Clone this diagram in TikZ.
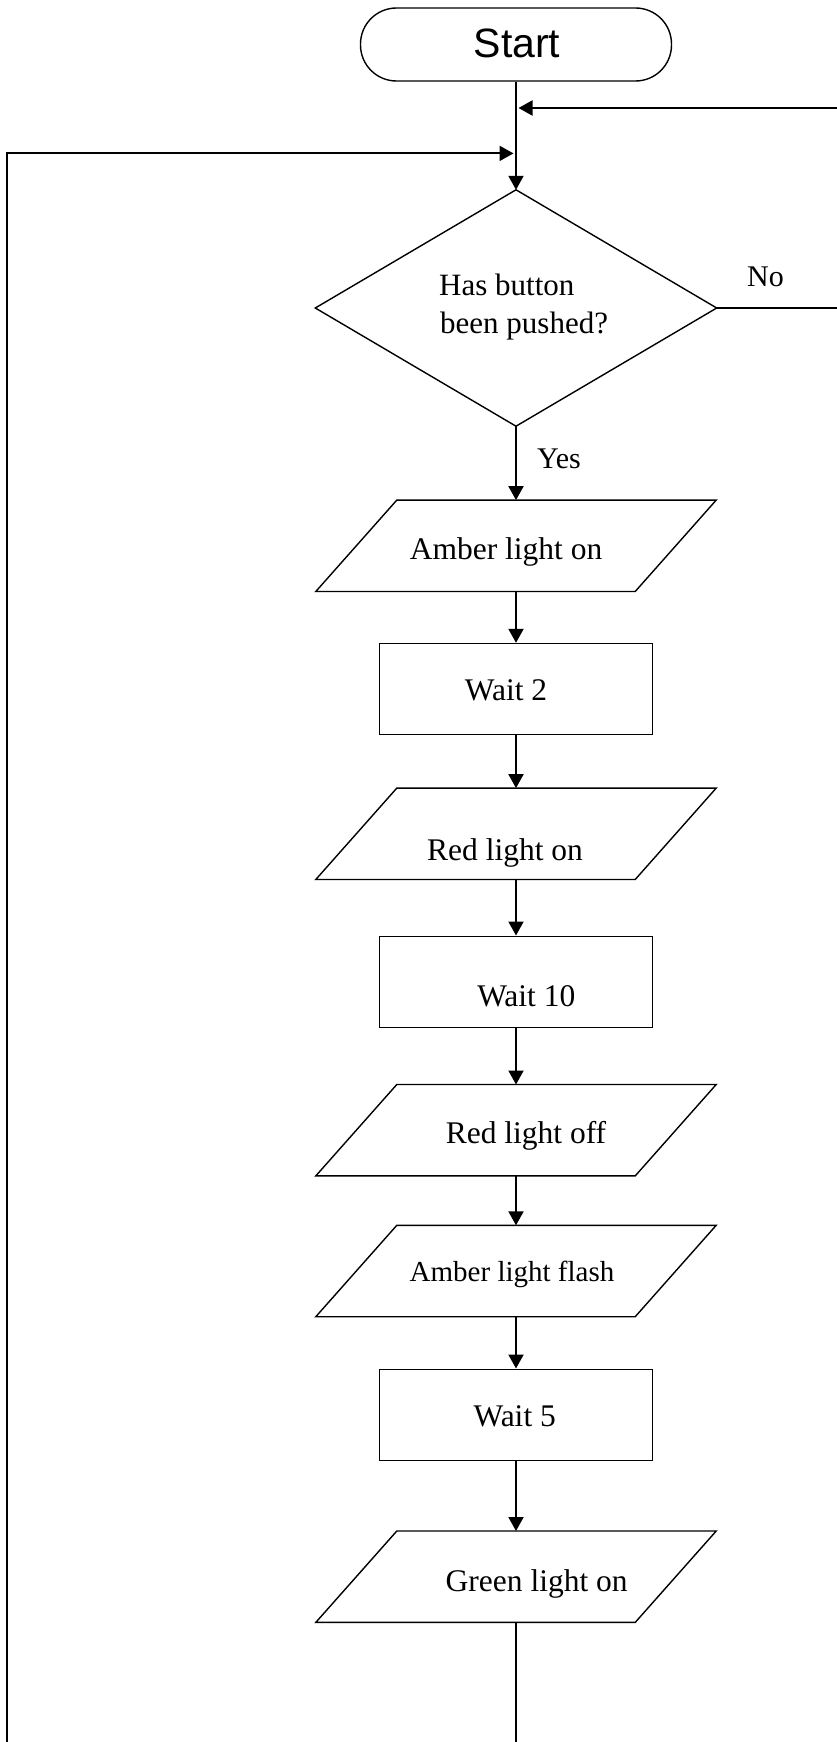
\documentclass[tikz,border=0pt]{standalone}
\usepackage{fontspec}
\setmainfont{Liberation Serif}
\newfontfamily\startfont{Liberation Sans}
\usetikzlibrary{arrows.meta}
\begin{document}
\begin{tikzpicture}[x=1pt,y=-1pt,
  conn/.style={line width=2pt},
  arr/.style={conn,-{Triangle[length=14pt,width=15pt]}},
  outline/.style={line width=1.4pt},
  boxnode/.style={draw,outline,minimum width=273pt,minimum height=91pt,inner sep=0pt},
  ionode/.style={minimum width=400pt,minimum height=91pt,inner sep=0pt},
  decnode/.style={minimum width=401pt,minimum height=236pt,inner sep=0pt},
  txt/.style={anchor=base,inner sep=0pt,font=\fontsize{31.5}{38}\selectfont},
  lbl/.style={anchor=base,inner sep=0pt,font=\fontsize{30}{36}\selectfont},
]
\useasboundingbox (0,0) rectangle (837,1742);
% shapes
\node[draw,outline,rounded corners=36pt,minimum width=311pt,minimum height=73pt,inner sep=0pt] (start) at (516,44.5) {};
\node[decnode] (dec) at (516,308) {};
\node[ionode] (amber) at (516,545.8) {};
\node[boxnode] (wait2) at (516,689) {};
\node[ionode] (red) at (516,833.8) {};
\node[boxnode] (wait10) at (516,981.7) {};
\node[ionode] (redoff) at (516,1130.2) {};
\node[ionode] (flash) at (516,1271) {};
\node[boxnode] (wait5) at (516,1414.7) {};
\node[ionode] (green) at (516,1576.7) {};
\draw[outline] (dec.north) -- (dec.east) -- (dec.south) -- (dec.west) -- cycle;
\foreach \n in {amber,red,redoff,flash,green}
  \draw[outline] ([xshift=81pt]\n.north west) -- (\n.north east) -- ([xshift=-81pt]\n.south east) -- (\n.south west) -- cycle;
% texts
\node[anchor=base,inner sep=0pt,font=\startfont\fontsize{41}{48}\selectfont] (tstart) at (517,57.3) {Start};
\node[anchor=base west,inner sep=0pt,font=\fontsize{31}{38}\selectfont] (tdec1) at (439,295) {Has button};
\node[anchor=base west,inner sep=0pt,font=\fontsize{31}{38}\selectfont] (tdec2) at (440,333) {been pushed?};
\node[txt] (tamber) at (506,559) {Amber light on};
\node[txt] (twait2) at (506,700) {Wait 2};
\node[txt] (tred) at (505,860) {Red light on};
\node[txt] (twait10) at (526.3,1006) {Wait 10};
\node[txt] (tredoff) at (526,1143.3) {Red light off};
\node[anchor=base,inner sep=0pt,font=\fontsize{29}{35}\selectfont] (tflash) at (512,1281) {Amber light flash};
\node[txt] (twait5) at (514.7,1426) {Wait 5};
\node[txt] (tgreen) at (536.7,1591.7) {Green light on};
\node[lbl] (lno) at (765.5,286) {No};
\node[lbl] (lyes) at (559,468) {Yes};
% coordinates
\coordinate (j1) at (516,108);
\coordinate (j2) at (516,153.4);
\coordinate (rin) at (837,108);
\coordinate (rout) at (837,308);
\coordinate (lt) at (7,153.4);
\coordinate (lb) at (7,1742);
\coordinate (gb) at (516,1742);
% connectors
\draw[arr] (start.south) -- (dec.north);
\draw[arr,shorten >=2.5pt] (rin) -- (j1);
\draw[arr,shorten >=2.5pt] (lb) -- (lt) -- (j2);
\draw[conn] (dec.east) -- (rout);
\draw[arr] (dec.south) -- (amber.north);
\draw[arr] (amber.south) -- (wait2.north);
\draw[arr] (wait2.south) -- (red.north);
\draw[arr] (red.south) -- (wait10.north);
\draw[arr] (wait10.south) -- (redoff.north);
\draw[arr] (redoff.south) -- (flash.north);
\draw[arr] (flash.south) -- (wait5.north);
\draw[arr] (wait5.south) -- (green.north);
\draw[outline] (green.south) -- (gb);
\end{tikzpicture}
\end{document}
